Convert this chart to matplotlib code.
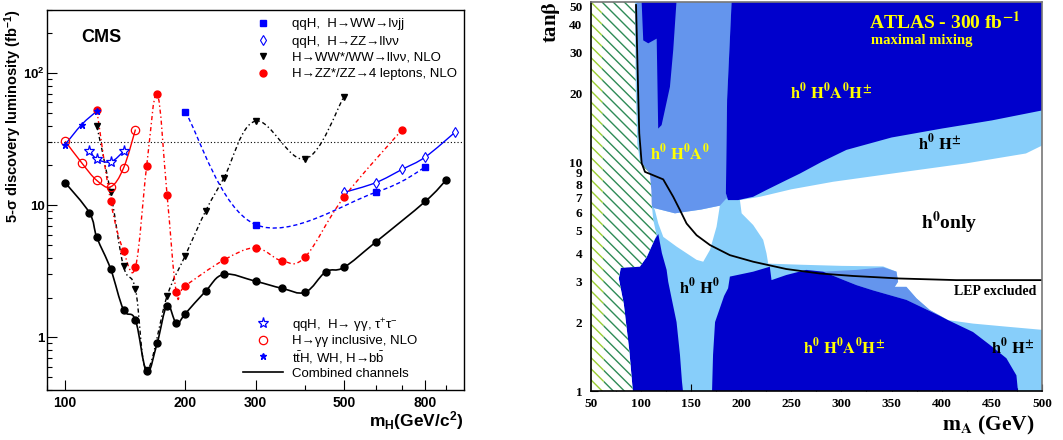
import numpy as np
import matplotlib
matplotlib.use("Agg")
import matplotlib.pyplot as plt
from matplotlib.path import Path
from matplotlib.patches import PathPatch, Polygon
from matplotlib.lines import Line2D
from matplotlib.ticker import FixedLocator, FixedFormatter, NullFormatter

# ---------------- left panel data (CMS) ----------------
mH_comb = [100, 115, 120, 130, 140, 150, 160, 170, 180, 190, 200, 225, 250, 300, 350, 400, 450, 500, 600, 800, 900]
L_comb = [14.8, 8.75, 5.72, 3.29, 1.62, 1.35, 0.553, 0.906, 1.74, 1.28, 1.51, 2.24, 3.0, 2.66, 2.35, 2.2, 3.13, 3.39, 5.25, 10.7, 15.4]

mH_zz4l = [120, 130, 140, 150, 160, 170, 180, 190, 200, 250, 300, 350, 400, 500, 700]
L_zz4l = [52.5, 10.7, 4.5, 3.41, 19.7, 69.7, 12.05, 2.19, 2.46, 3.85, 4.75, 3.79, 4.08, 11.5, 37.4]

mH_wwlvlv = [120, 130, 140, 150, 160, 180, 200, 225, 250, 300, 400, 500]
L_wwlvlv = [39.7, 12.5, 3.45, 2.32, 0.57, 2.05, 4.16, 9.06, 16.1, 43.3, 22.4, 66.2]

mH_wwlvjj = [200, 300, 600, 800]
L_wwlvjj = [50.9, 7.14, 12.5, 19.4]

mH_zzllvv = [500, 600, 700, 800, 950]
L_zzllvv = [12.5, 14.8, 18.7, 23.2, 35.7]

mH_qqh_gg = [115, 120, 130, 140]
L_qqh_gg = [25.9, 22.4, 21.3, 25.5]

mH_gg = [100, 110, 120, 130, 140, 150]
L_gg = [30.5, 20.9, 15.4, 13.8, 19.1, 37.4]

mH_tth = [100, 110, 120]
L_tth = [28.8, 40.8, 51.5]

ref_lumi = 30.0

labels_top = ["qqH,  H\u2192WW\u2192l\u03bdjj", "qqH,  H\u2192ZZ\u2192ll\u03bd\u03bd",
              "H\u2192WW*/WW\u2192ll\u03bd\u03bd, NLO", "H\u2192ZZ*/ZZ\u21924 leptons, NLO"]
labels_bot = ["qqH,  H\u2192 \u03b3\u03b3, \u03c4$^{+}$\u03c4$^{-}$", "H\u2192\u03b3\u03b3 inclusive, NLO",
              "t$\\mathrm{\\bar{t}}$H, WH, H\u2192b$\\mathrm{\\bar{b}}$", "Combined channels"]

xt_L = [100, 200, 300, 500, 800]
xt_L_lab = ["100", "200", "300", "500", "800"]
yt_L = [1, 10, 100]
yt_L_lab = ["1", "10", r"$\mathbf{10^{2}}$"]

# ---------------- right panel data (ATLAS) ----------------
lep_mA = [95.2, 97.5, 98.4, 100.8, 104.1, 122.3, 132.3, 139, 145.6, 155.6, 168.9, 188.8, 212, 245, 278.4, 311.6, 358, 414.6, 500]
lep_tb = [48.5, 18.7, 13.4, 9.9, 9.06, 8.4, 7.05, 6.17, 5.39, 4.79, 4.34, 3.92, 3.67, 3.41, 3.26, 3.18, 3.10, 3.05, 3.05]

white_main_mA = [198.8, 218.7, 250, 291.7, 358, 424.6, 484, 500, 500, 464.5, 431.2, 406.3, 388, 374.8, 364.8, 353.2, 356.5, 354.9, 341.6, 300, 260, 227, 225.3, 222, 212, 200.5]
white_main_tb = [6.82, 7.05, 7.6, 8.2, 9.0, 9.87, 10.9, 11.8, 1.85, 1.91, 1.97, 2.04, 2.26, 2.54, 2.85, 2.85, 3.0, 3.32, 3.5, 3.52, 3.56, 3.6, 3.99, 4.57, 5.31, 5.97]

white_pocket_mA = [113, 134, 160, 178.8, 175.5, 168.9, 162.2, 155.6, 135.7, 122.4, 117.4, 114]
white_pocket_tb = [6.3, 5.97, 6.2, 6.45, 5.22, 4.13, 3.67, 3.74, 4.27, 4.71, 5.39, 6.17]

med_top_mA = [95.5, 190.5, 186, 184.8, 187, 185.5, 178.8, 160, 134, 113, 108, 110, 104, 100.8, 97.5]
med_top_tb = [50, 50, 18.7, 7.3, 6.82, 6.95, 6.45, 6.2, 5.97, 6.3, 6.5, 7.5, 9.06, 9.9, 18.7]

med_low_mA = [281.8, 315, 341.6, 354.9, 356.5, 353.2, 364.8, 374.8, 388, 406.3, 398, 364.8, 331.6, 315, 300]
med_low_tb = [3.32, 3.38, 3.47, 3.32, 3.0, 2.85, 2.85, 2.54, 2.26, 2.04, 2.13, 2.5, 2.75, 2.9, 3.08]

dark_top_mA = [190.5, 500, 500, 450, 400, 350, 305, 280, 258.5, 245, 225, 212, 197, 187, 184.8, 186]
dark_top_tb = [50, 50, 16.8, 15.2, 14.0, 12.8, 11.3, 10.0, 8.9, 8.33, 7.54, 7.05, 6.82, 6.82, 7.3, 18.7]

dark_spike_mA = [100.8, 135.5, 132.3, 129, 120.7, 117.3, 115.8, 107.4, 102.4]
dark_spike_tb = [50, 50, 30.9, 21.3, 14.5, 14.0, 34.6, 33, 34]

dark_low_mA = [188.8, 212, 228.6, 230.3, 245, 265, 281.8, 300, 315, 331.6, 364.8, 398, 406.3, 431.2, 448, 464.5, 474.5, 476, 171, 172, 174, 183, 187]
dark_low_tb = [3.16, 3.32, 3.49, 3.05, 3.21, 3.38, 3.32, 3.08, 2.9, 2.75, 2.5, 2.13, 2.04, 1.81, 1.59, 1.39, 1.17, 1.0, 1.0, 1.44, 2.0, 2.6, 2.81]

dark_left_mA = [80, 100, 106, 114, 117.4, 121, 125.7, 127.3, 131, 135.6, 139, 141, 142, 92, 88.5, 83, 78]
dark_left_tb = [3.45, 3.55, 3.85, 4.6, 4.85, 4.0, 3.38, 3.0, 2.5, 2.0, 1.44, 1.1, 1.0, 1.0, 1.5, 2.4, 3.1]

hatch_mA = [50, 92, 88.5, 83, 78, 80, 99.1, 105.8, 115.7, 112.4, 110.8, 110.5, 109, 99, 96.5, 95, 94.1, 50]
hatch_tb = [1, 1, 1.5, 2.4, 3.1, 3.45, 3.49, 3.85, 4.8, 5.58, 6.6, 7.5, 8.9, 10.2, 12, 20, 50, 50]

hatch2_mA = [50, 63, 61, 50]
hatch2_tb = [1, 1, 50, 50]

xt_R = [50, 100, 150, 200, 250, 300, 350, 400, 450, 500]
yt_R = [1, 2, 3, 4, 5, 6, 7, 8, 9, 10, 20, 30, 40, 50]

C_DARK = "#0000cc"
C_MED = "#6495ed"
C_LIGHT = "#87cefa"

plt.rcParams['font.family'] = ['Liberation Sans', 'DejaVu Sans']
plt.rcParams['hatch.linewidth'] = 1.0
plt.rcParams['mathtext.fontset'] = 'custom'
plt.rcParams['mathtext.rm'] = 'Liberation Sans'
plt.rcParams['mathtext.it'] = 'Liberation Sans:italic'
plt.rcParams['mathtext.bf'] = 'Liberation Sans:bold'

W, H = 1063, 440
fig = plt.figure(figsize=(W / 100, H / 100), dpi=100)
axL = fig.add_axes([47 / W, 50 / H, 417 / W, 380 / H])
axR = fig.add_axes([590.7 / W, 49 / H, 451.3 / W, 389 / H])


def smooth_path(x, y, k=0.55):
    lx, ly = np.log10(x), np.log10(y)
    n = len(lx)
    verts = [(x[0], y[0])]
    codes = [Path.MOVETO]
    for i in range(n - 1):
        a = i - 1 if i > 0 else i
        b = i + 2 if i + 2 < n else i + 1
        c1x = lx[i] + k * (lx[i + 1] - lx[a]) / 3
        c1y = ly[i] + k * (ly[i + 1] - ly[a]) / 3
        c2x = lx[i + 1] - k * (lx[b] - lx[i]) / 3
        c2y = ly[i + 1] - k * (ly[b] - ly[i]) / 3
        verts += [(10 ** c1x, 10 ** c1y), (10 ** c2x, 10 ** c2y), (x[i + 1], y[i + 1])]
        codes += [Path.CURVE4] * 3
    return Path(verts, codes)


def curve(ax, x, y, color, ls, lw=1.0, z=2):
    ax.add_patch(PathPatch(smooth_path(x, y), fill=False, edgecolor=color, lw=lw, linestyle=ls, zorder=z))


axL.set_xscale('log')
axL.set_yscale('log')
axL.set_xlim(90, 1000)
axL.set_ylim(0.4, 300)

axL.axhline(ref_lumi, color='black', lw=0.8, linestyle=(0, (1, 2)), zorder=1)

dashdot = (0, (3, 2, 1, 2))
curve(axL, mH_wwlvjj, L_wwlvjj, 'blue', (0, (3, 2)))
curve(axL, mH_zzllvv, L_zzllvv, 'blue', '-')
curve(axL, mH_wwlvlv, L_wwlvlv, 'black', dashdot)
curve(axL, mH_zz4l, L_zz4l, 'red', dashdot)
curve(axL, mH_qqh_gg, L_qqh_gg, 'blue', '-')
curve(axL, mH_gg, L_gg, 'red', '-')
curve(axL, mH_tth, L_tth, 'blue', '-')
curve(axL, mH_comb, L_comb, 'black', '-', lw=1.2)

mk_wwlvjj = dict(marker='s', color='blue', ms=4.5)
mk_zzllvv = dict(marker='d', mec='blue', mfc='white', ms=5, mew=0.8)
mk_wwlvlv = dict(marker='v', color='black', ms=5)
mk_zz4l = dict(marker='o', color='red', ms=5)
mk_qqh_gg = dict(marker='*', mec='blue', mfc='white', ms=8, mew=0.9)
mk_gg = dict(marker='o', mec='red', mfc='none', ms=6, mew=0.9)
mk_tth = dict(marker='*', color='blue', ms=5)
mk_comb = dict(marker='o', color='black', ms=5)

axL.plot(mH_wwlvjj, L_wwlvjj, ls='none', zorder=3, **mk_wwlvjj)
axL.plot(mH_zzllvv, L_zzllvv, ls='none', zorder=3, **mk_zzllvv)
axL.plot(mH_wwlvlv, L_wwlvlv, ls='none', zorder=3, **mk_wwlvlv)
axL.plot(mH_zz4l, L_zz4l, ls='none', zorder=3, **mk_zz4l)
axL.plot(mH_qqh_gg, L_qqh_gg, ls='none', zorder=3, **mk_qqh_gg)
axL.plot(mH_gg, L_gg, ls='none', zorder=3, **mk_gg)
axL.plot(mH_tth, L_tth, ls='none', zorder=3, **mk_tth)
axL.plot(mH_comb, L_comb, ls='none', zorder=4, **mk_comb)

axL.xaxis.set_major_locator(FixedLocator(xt_L))
axL.xaxis.set_major_formatter(FixedFormatter(xt_L_lab))
axL.xaxis.set_minor_locator(FixedLocator([90, 400, 600, 700, 900]))
axL.xaxis.set_minor_formatter(NullFormatter())
axL.yaxis.set_major_locator(FixedLocator(yt_L))
axL.yaxis.set_major_formatter(FixedFormatter(yt_L_lab))
minors = [v * d for d in (0.1, 1, 10, 100) for v in range(2, 10) if 0.4 <= v * d <= 300]
axL.yaxis.set_minor_locator(FixedLocator(minors))
axL.yaxis.set_minor_formatter(NullFormatter())
axL.tick_params(which='both', direction='in', top=False, right=False, width=0.8)
axL.tick_params(which='major', length=7)
axL.tick_params(which='minor', length=3.5)
axL.tick_params(axis='x', pad=4)
axL.tick_params(axis='y', pad=1.5)
for lab in axL.get_xticklabels():
    lab.set_fontsize(10)
    lab.set_fontweight('bold')
for lab in axL.get_yticklabels():
    lab.set_fontsize(9.5)
    lab.set_fontweight('bold')
for s in axL.spines.values():
    s.set_linewidth(1.0)

axL.text((81 - 47) / 417, (390 - 38) / 380, "CMS", transform=axL.transAxes, fontsize=13,
         fontweight='bold', ha='left', va='center')


def legend_entry(ax, ypx, label, mk=None, line=False):
    yf = (390 - ypx) / 380
    if line:
        ax.add_line(Line2D([(243 - 47) / 417, (283 - 47) / 417], [yf, yf], transform=ax.transAxes,
                           color='black', lw=1.2, clip_on=False))
    else:
        ax.add_line(Line2D([(263 - 47) / 417], [yf], transform=ax.transAxes, ls='none',
                           clip_on=False, **mk))
    ax.text((292 - 47) / 417, yf, label, transform=ax.transAxes, fontsize=9.5,
            ha='left', va='center_baseline')


for ypx, lab, mk in zip([23, 40, 56.5, 73], labels_top, [mk_wwlvjj, mk_zzllvv, mk_wwlvlv, mk_zz4l]):
    legend_entry(axL, ypx, lab, mk)
for ypx, lab, mk in zip([323, 339.5, 356], labels_bot[:3], [mk_qqh_gg, mk_gg, mk_tth]):
    legend_entry(axL, ypx, lab, mk)
legend_entry(axL, 372, labels_bot[3], line=True)

fig.text(13 / W, 1 - 9 / H, r"5-$\mathbf{\sigma}$ discovery luminosity (fb$^{\mathbf{-1}}$)", rotation=90,
         fontsize=10.5, fontweight='bold', ha='center', va='top')
fig.text(463 / W, 1 - 426 / H, r"m$_{\mathbf{H}}$(GeV/c$^{\mathbf{2}}$)", fontsize=12.5,
         fontweight='bold', ha='right', va='baseline')

# ---------------- right panel ----------------
axR.set_yscale('log')
axR.set_xlim(50, 500)
axR.set_ylim(1, 50)
axR.set_facecolor(C_LIGHT)


def poly(ax, xs, ys, fc, z, **kw):
    ax.add_patch(Polygon(np.column_stack([xs, ys]), closed=True, facecolor=fc, lw=0, zorder=z, **kw))


poly(axR, white_main_mA, white_main_tb, 'white', 1)
poly(axR, white_pocket_mA, white_pocket_tb, 'white', 1)
poly(axR, med_top_mA, med_top_tb, C_MED, 2)
poly(axR, med_low_mA, med_low_tb, C_MED, 2)
poly(axR, dark_top_mA, dark_top_tb, C_DARK, 3)
poly(axR, dark_spike_mA, dark_spike_tb, C_DARK, 3)
poly(axR, dark_low_mA, dark_low_tb, C_DARK, 3)
poly(axR, dark_left_mA, dark_left_tb, C_DARK, 3)

axR.add_patch(Polygon(np.column_stack([hatch_mA, hatch_tb]), closed=True, facecolor='white',
                      edgecolor='#2e8b57', hatch='\\\\\\', lw=0, zorder=4))
axR.add_patch(Polygon(np.column_stack([hatch2_mA, hatch2_tb]), closed=True, facecolor='white',
                      edgecolor='#9acd32', hatch='\\\\\\', lw=0, zorder=5))

axR.plot(lep_mA, lep_tb, color='black', lw=1.3, zorder=6)

serif = 'Liberation Serif'
tk = dict(ha='center', va='center', zorder=7, math_fontfamily='stix')
axR.text(290, 20.3, r"$\mathbf{h^0\ H^0 A^0 H^{\pm}}$", color='yellow', fontsize=12, **tk)
axR.text(139, 11, r"$\mathbf{h^0\ H^0 A^0}$", color='yellow', fontsize=12, **tk)
axR.text(398, 12.1, r"$\mathbf{h^0\ H^{\pm}}$", color='black', fontsize=12, **tk)
axR.text(408, 5.42, r"$\mathbf{h^0}$only", color='black', fontsize=14, family=serif, fontweight='bold', **tk)
axR.text(158, 2.87, r"$\mathbf{h^0\ H^0}$", color='black', fontsize=12, **tk)
axR.text(453, 2.73, "LEP excluded", color='black', fontsize=10, family=serif, fontweight='bold', **tk)
axR.text(303, 1.56, r"$\mathbf{h^0\ H^0 A^0 H^{\pm}}$", color='yellow', fontsize=12, **tk)
axR.text(471, 1.56, r"$\mathbf{h^0\ H^{\pm}}$", color='black', fontsize=12, **tk)
axR.text(403, 40.8, r"ATLAS - 300 fb$^{\mathbf{-1}}$", color='yellow', fontsize=14, family=serif,
         fontweight='bold', **tk)
axR.text(380, 33.9, "maximal mixing", color='yellow', fontsize=10.5, family=serif, fontweight='bold', **tk)

axR.xaxis.set_major_locator(FixedLocator(xt_R))
axR.xaxis.set_major_formatter(FixedFormatter([str(v) for v in xt_R]))
axR.xaxis.set_minor_locator(FixedLocator([v + 25 for v in xt_R[:-1]]))
axR.yaxis.set_major_locator(FixedLocator(yt_R))
axR.yaxis.set_major_formatter(FixedFormatter([str(v) for v in yt_R]))
axR.yaxis.set_minor_locator(FixedLocator([]))
axR.yaxis.set_minor_formatter(NullFormatter())
axR.tick_params(which='both', direction='in', top=False, right=False, width=0.8)
axR.tick_params(which='major', length=5)
axR.tick_params(which='minor', length=2.5)
axR.tick_params(axis='y', pad=6)
axR.tick_params(axis='x', pad=5)
for lab in axR.get_xticklabels() + axR.get_yticklabels():
    lab.set_fontsize(9.5)
    lab.set_fontweight('bold')
    lab.set_family(serif)
axR.get_yticklabels()[-1].set_va('top')
for s in axR.spines.values():
    s.set_linewidth(1.2)
    s.set_zorder(8)
axR.spines['top'].set_color('#777777')
axR.spines['right'].set_color('#777777')

fig.text(551 / W, 1 - 1 / H, r"tan$\mathbf{\beta}$", rotation=90, fontsize=15, family=serif,
         fontweight='bold', ha='center', va='top', math_fontfamily='stix')
fig.text(1035 / W, 1 - 425 / H, r"m$_{\mathbf{A}}$ (GeV)", fontsize=15.5, family=serif,
         fontweight='bold', ha='right', va='center', math_fontfamily='stix')

fig.savefig("out.png", dpi=100)
